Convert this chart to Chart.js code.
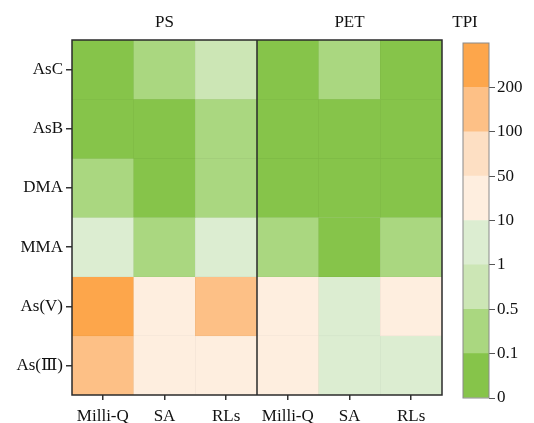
<!DOCTYPE html>
<html>
<head>
<meta charset="utf-8">
<script src="https://cdn.jsdelivr.net/npm/chart.js@4/dist/chart.umd.min.js"></script>
<style>
  html, body { margin: 0; padding: 0; background: #fff; }
  #wrap { position: relative; width: 534px; height: 423px; }
  #main { position: absolute; left: 0; top: 0; }
  #bar { position: absolute; left: 440px; top: 0; }
</style>
</head>
<body>
<div id="wrap">
  <canvas id="main" width="534" height="423"></canvas>
  <canvas id="bar" width="94" height="423"></canvas>
</div>
<script>
// ---- data ----
const groups = ['PS', 'PET'];
const columns = ['Milli-Q', 'SA', 'RLs', 'Milli-Q', 'SA', 'RLs'];
const rows = ['AsC', 'AsB', 'DMA', 'MMA', 'As(V)', 'As(Ⅲ)'];
// estimated TPI per row (columns: PS Milli-Q, SA, RLs, PET Milli-Q, SA, RLs)
const tpiAsC   = [0.05, 0.3, 0.7, 0.05, 0.3, 0.05];
const tpiAsB   = [0.05, 0.05, 0.3, 0.05, 0.05, 0.05];
const tpiDMA   = [0.3, 0.05, 0.3, 0.05, 0.05, 0.05];
const tpiMMA   = [5, 0.3, 5, 0.3, 0.05, 0.3];
const tpiAsV   = [250, 30, 150, 30, 5, 30];
const tpiAsIII = [150, 30, 30, 30, 5, 5];
const tpiRows = [tpiAsC, tpiAsB, tpiDMA, tpiMMA, tpiAsV, tpiAsIII];
// colour scale
const breaks = [0, 0.1, 0.5, 1, 10, 50, 100, 200];
const bandColors = ['#86c44a', '#aad780', '#cce6b5', '#dcedd1', '#feeedf', '#fddfc3', '#fdc086', '#fda64b'];

function colorFor(v) {
  let idx = 0;
  for (let i = 0; i < breaks.length; i++) if (v >= breaks[i]) idx = i;
  return bandColors[idx];
}
function darker(hex, f) {
  const n = parseInt(hex.slice(1), 16);
  const r = Math.round(((n >> 16) & 255) * f), g = Math.round(((n >> 8) & 255) * f), b = Math.round((n & 255) * f);
  return 'rgb(' + r + ',' + g + ',' + b + ')';
}

const serif = "'Liberation Serif', 'DejaVu Serif', serif";
const nRows = rows.length;

// ---- main heatmap ----
const datasets = rows.map((name, r) => ({
  label: name,
  data: columns.map(() => [nRows - 1 - r, nRows - r]),
  backgroundColor: tpiRows[r].map(colorFor),
  borderColor: tpiRows[r].map(v => darker(colorFor(v), 0.95)),
  borderWidth: 0.6,
  borderSkipped: false,
  grouped: false,
  barPercentage: 1,
  categoryPercentage: 1,
  xAxisID: 'x',
  yAxisID: 'y'
}));

const framePlugin = {
  id: 'frame',
  afterDatasetsDraw(chart) {
    const { ctx, chartArea: a, scales } = chart;
    ctx.save();
    ctx.strokeStyle = '#2b2b2b';
    ctx.lineWidth = 1.5;
    ctx.strokeRect(a.left, a.top, a.right - a.left, a.bottom - a.top);
    const xs = (scales.x.getPixelForValue(2) + scales.x.getPixelForValue(3)) / 2;
    ctx.beginPath();
    ctx.moveTo(xs, a.top);
    ctx.lineTo(xs, a.bottom);
    ctx.stroke();
    ctx.restore();
  }
};

new Chart(document.getElementById('main'), {
  type: 'bar',
  data: { labels: columns, datasets },
  options: {
    responsive: false,
    animation: false,
    layout: { padding: { left: 0, right: 92, top: 0, bottom: 0 } },
    plugins: { legend: { display: false }, tooltip: { enabled: false } },
    scales: {
      x: {
        type: 'category',
        position: 'bottom',
        offset: true,
        grid: { display: true, drawOnChartArea: false, drawTicks: true, tickLength: 5, color: '#333', offset: false, lineWidth: 1.5 },
        border: { display: false },
        ticks: { color: '#111', font: { family: serif, size: 17 }, padding: 6, maxRotation: 0, autoSkip: false },
        afterFit(s) { s.height = 28; }
      },
      x2: {
        type: 'category',
        position: 'top',
        labels: groups,
        offset: true,
        grid: { display: false, drawTicks: false },
        border: { display: false },
        ticks: { color: '#111', font: { family: serif, size: 17 }, padding: 7 },
        afterFit(s) { s.height = 40; }
      },
      y: {
        type: 'linear',
        min: 0,
        max: nRows,
        afterBuildTicks(s) { s.ticks = rows.map((_, i) => ({ value: i + 0.5 })); },
        grid: { display: true, drawOnChartArea: false, drawTicks: true, tickLength: 6, color: '#333', lineWidth: 1.5 },
        border: { display: false },
        ticks: {
          color: '#111', font: { family: serif, size: 17 }, padding: 3,
          callback(v) { return rows[nRows - 1 - Math.floor(v)]; }
        },
        afterFit(s) { s.width = 72; }
      }
    }
  },
  plugins: [framePlugin]
});

// ---- colour bar ----
const barSets = bandColors.map((c, i) => ({
  label: String(breaks[i]),
  data: [[i, i + 1]],
  backgroundColor: c,
  borderWidth: 0,
  grouped: false,
  barPercentage: 1,
  categoryPercentage: 1
}));

const barFrame = {
  id: 'barFrame',
  afterDatasetsDraw(chart) {
    const { ctx, chartArea: a } = chart;
    ctx.save();
    ctx.strokeStyle = '#8a8a8a';
    ctx.lineWidth = 1;
    ctx.strokeRect(a.left, a.top, a.right - a.left, a.bottom - a.top);
    ctx.fillStyle = '#111';
    ctx.font = "17px " + serif;
    ctx.textAlign = 'center';
    ctx.textBaseline = 'middle';
    ctx.fillText('TPI', 25, 23);
    ctx.restore();
  }
};

new Chart(document.getElementById('bar'), {
  type: 'bar',
  data: { labels: ['TPI'], datasets: barSets },
  options: {
    responsive: false,
    animation: false,
    layout: { padding: { left: 23, right: 0, top: 43, bottom: 25 } },
    plugins: { legend: { display: false }, tooltip: { enabled: false } },
    scales: {
      x: { display: false, offset: true },
      y: {
        type: 'linear',
        position: 'right',
        min: 0,
        max: breaks.length,
        afterBuildTicks(s) { s.ticks = breaks.map((_, i) => ({ value: i })); },
        grid: { display: true, drawOnChartArea: false, drawTicks: true, tickLength: 6, color: '#555' },
        border: { display: false },
        ticks: {
          color: '#111', font: { family: serif, size: 17 }, padding: 2,
          callback(v) { return String(breaks[v]); }
        },
        afterFit(s) { s.width = 45; }
      }
    }
  },
  plugins: [barFrame]
});
</script>
</body>
</html>
